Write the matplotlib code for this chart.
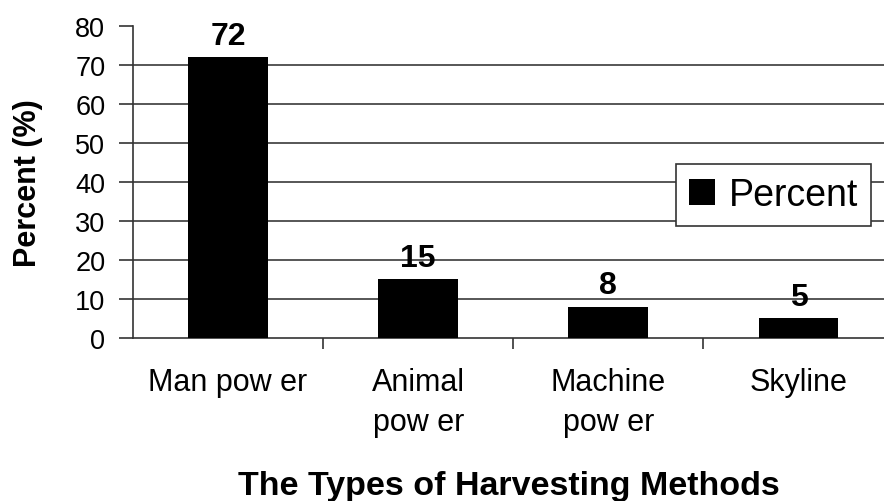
import matplotlib.pyplot as plt

categories = ["Man pow er", "Animal\npow er", "Machine\npow er", "Skyline"]
percent = [72, 15, 8, 5]
yticks = [0, 10, 20, 30, 40, 50, 60, 70, 80]

plt.rcParams['font.family'] = ['Liberation Sans', 'DejaVu Sans']

fig = plt.figure(figsize=(8.84, 5.02), dpi=100)
ax = fig.add_axes([0.1505, 0.325, 0.8495, 0.621])

x = list(range(len(categories)))
ax.bar(x, percent, width=0.42, color='black', label='Percent', zorder=3)

for xi, v in zip(x, percent):
    ax.text(xi, v + 1.6, str(v), ha='center', va='bottom', fontsize=23, fontweight='bold')

# grid lines, none on the top value
for yv in yticks[1:-1]:
    ax.axhline(yv, color='#3a3a3a', lw=1.2, zorder=1)

ax.set_xlim(-0.5, 3.45)
ax.set_ylim(0, 80)
ax.set_yticks(yticks)
ax.tick_params(axis='y', labelsize=19.5, length=10, width=1.2, direction='out',
               color='#333333', pad=10)

ax.set_xticks(x)
ax.set_xticklabels(categories, fontsize=22, linespacing=1.45, va='top')
ax.tick_params(axis='x', which='major', length=0, pad=21)
ax.set_xticks([0.5, 1.5, 2.5], minor=True)
ax.tick_params(axis='x', which='minor', length=8, width=1.2, direction='out', color='#333333')

for s in ['top', 'right']:
    ax.spines[s].set_visible(False)
for s in ['left', 'bottom']:
    ax.spines[s].set_color('#333333')
    ax.spines[s].set_linewidth(1.2)

ax.set_ylabel('Percent (%)', fontsize=22, fontweight='bold')
ax.yaxis.set_label_coords(-0.12, 0.5)
ax.set_xlabel('The Types of Harvesting Methods', fontsize=24.5, fontweight='bold', va='top')
ax.xaxis.set_label_coords(0.5, -0.425)

leg = ax.legend(loc='upper left', bbox_to_anchor=(0.723, 0.557), fontsize=27,
                fancybox=False, framealpha=1, edgecolor='#333333',
                handlelength=0.68, handleheight=0.68, handletextpad=0.38,
                borderpad=0.35, borderaxespad=0)
leg.get_frame().set_linewidth(1.2)
leg.set_zorder(5)

fig.savefig('out.png', dpi=100)
